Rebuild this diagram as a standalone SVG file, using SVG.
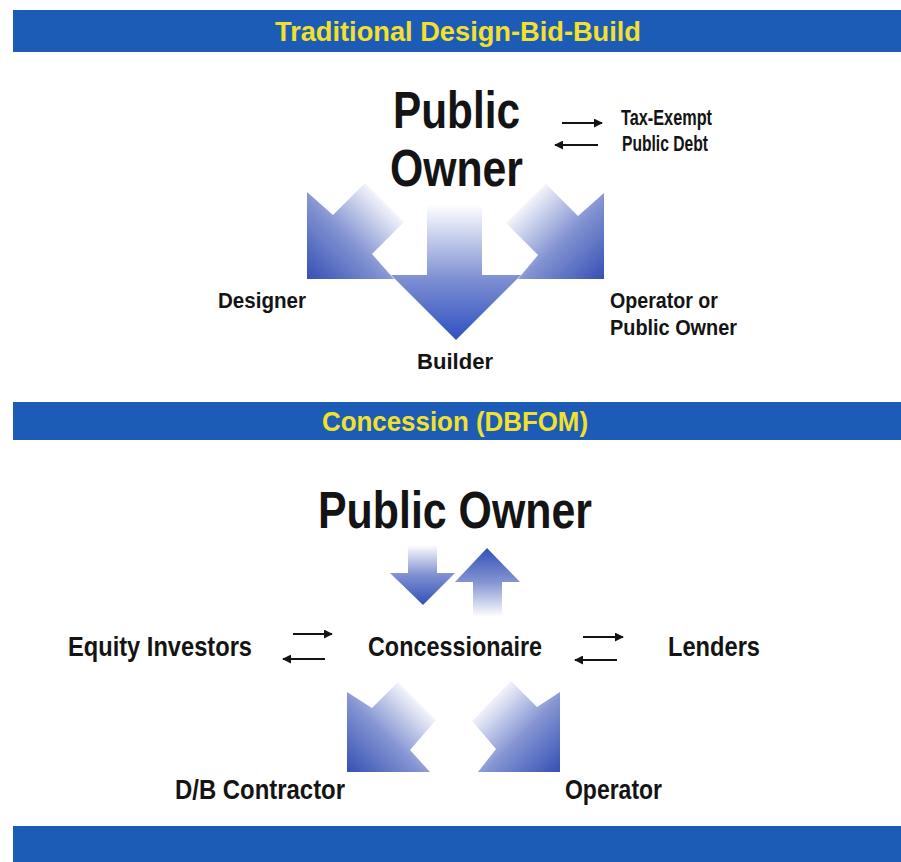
<svg xmlns="http://www.w3.org/2000/svg" width="901" height="862" viewBox="0 0 901 862">
<defs>
<style>
.t{font-family:'Liberation Sans Narrow','Liberation Sans',Arial,sans-serif;font-weight:bold;fill:#141414}
.bar{fill:#1d5cb6}
.bt{font-family:'Liberation Sans Narrow','Liberation Sans',Arial,sans-serif;font-weight:bold;fill:#f2e12c;font-size:28px}
.ln{stroke:#141414;stroke-width:2;fill:none}
</style>
<marker id="ah" viewBox="0 0 10 10" refX="9" refY="5" markerWidth="4.5" markerHeight="4.5" orient="auto" markerUnits="strokeWidth">
<path d="M0,0 L10,5 L0,10 Z" fill="#141414"/>
</marker>
<linearGradient id="gTL" gradientUnits="userSpaceOnUse" x1="307" y1="279" x2="388" y2="198">
<stop offset="0" stop-color="#3550b4"/><stop offset="0.5" stop-color="#8494d2"/><stop offset="1" stop-color="#ffffff"/>
</linearGradient>
<linearGradient id="gTR" gradientUnits="userSpaceOnUse" x1="604" y1="279" x2="523" y2="198">
<stop offset="0" stop-color="#3550b4"/><stop offset="0.5" stop-color="#8494d2"/><stop offset="1" stop-color="#ffffff"/>
</linearGradient>
<linearGradient id="gTC" gradientUnits="userSpaceOnUse" x1="0" y1="340" x2="0" y2="205">
<stop offset="0" stop-color="#2f50c0"/><stop offset="0.45" stop-color="#7d8fd2"/><stop offset="1" stop-color="#ffffff"/>
</linearGradient>
<linearGradient id="gD" gradientUnits="userSpaceOnUse" x1="0" y1="605" x2="0" y2="545">
<stop offset="0" stop-color="#3350b8"/><stop offset="0.5" stop-color="#7f90d0"/><stop offset="1" stop-color="#ffffff"/>
</linearGradient>
<linearGradient id="gU" gradientUnits="userSpaceOnUse" x1="0" y1="548" x2="0" y2="617">
<stop offset="0" stop-color="#3350b8"/><stop offset="0.5" stop-color="#8595d2"/><stop offset="1" stop-color="#ffffff"/>
</linearGradient>
<linearGradient id="gBL" gradientUnits="userSpaceOnUse" x1="347" y1="772" x2="421" y2="698">
<stop offset="0" stop-color="#3550b4"/><stop offset="0.5" stop-color="#8494d2"/><stop offset="1" stop-color="#ffffff"/>
</linearGradient>
<linearGradient id="gBR" gradientUnits="userSpaceOnUse" x1="560" y1="772" x2="486" y2="698">
<stop offset="0" stop-color="#3550b4"/><stop offset="0.5" stop-color="#8494d2"/><stop offset="1" stop-color="#ffffff"/>
</linearGradient>
</defs>
<rect width="901" height="862" fill="#ffffff"/>

<g id="bar-traditional">
<rect class="bar" x="13" y="10" width="888" height="42"/>
<text class="bt" x="458" y="41" text-anchor="middle" textLength="366" lengthAdjust="spacingAndGlyphs">Traditional Design-Bid-Build</text>
</g>
<g id="bar-concession">
<rect class="bar" x="13" y="402" width="888" height="38"/>
<text class="bt" x="455" y="431" text-anchor="middle" textLength="266" lengthAdjust="spacingAndGlyphs">Concession (DBFOM)</text>
</g>
<g id="bar-bottom">
<rect class="bar" x="13" y="826" width="888" height="36"/>
</g>

<g id="connectors">
<g id="top-arrows">
<polygon fill="url(#gTL)" points="307,192 333,215 365,183 404,222 372,254 394,279 307,279"/>
<polygon fill="url(#gTR)" points="604,193 578,216 546,184 506,223 538,255 518,279 604,279"/>
<polygon fill="url(#gTC)" points="427,195 482,195 482,275 521,275 456,340 391,275 427,275"/>
</g>
<g id="mid-arrows">
<polygon fill="url(#gD)" points="408,540 437,540 437,573 455,573 423,605 390,573 408,573"/>
<polygon fill="url(#gU)" points="487,548 520,582 502,582 502,620 473,620 473,582 455,582"/>
</g>
<g id="bottom-arrows">
<polygon fill="url(#gBL)" points="347,692 372,708 398,682 436,720 410,750 430,772 347,772"/>
<polygon fill="url(#gBR)" points="560,692 537,707 511,681 472,721 496,749 478,772 560,772"/>
</g>
<g id="exchange-arrows">
<line class="ln" x1="562" y1="123" x2="602" y2="123" marker-end="url(#ah)"/>
<line class="ln" x1="598" y1="145" x2="555" y2="145" marker-end="url(#ah)"/>
<line class="ln" x1="293" y1="634" x2="332" y2="634" marker-end="url(#ah)"/>
<line class="ln" x1="325" y1="659" x2="283" y2="659" marker-end="url(#ah)"/>
<line class="ln" x1="583" y1="637" x2="623" y2="637" marker-end="url(#ah)"/>
<line class="ln" x1="617" y1="660" x2="575" y2="660" marker-end="url(#ah)"/>
</g>
</g>

<g id="public-owner-top">
<text class="t" x="393" y="128" font-size="52" textLength="127" lengthAdjust="spacingAndGlyphs">Public</text>
<text class="t" x="390" y="186" font-size="52" textLength="133" lengthAdjust="spacingAndGlyphs">Owner</text>
</g>
<g id="tax-exempt-debt">
<text class="t" x="621" y="125" font-size="22" textLength="91" lengthAdjust="spacingAndGlyphs">Tax-Exempt</text>
<text class="t" x="622" y="151" font-size="22" textLength="86" lengthAdjust="spacingAndGlyphs">Public Debt</text>
</g>
<g id="designer">
<text class="t" x="218" y="308" font-size="22" textLength="88" lengthAdjust="spacingAndGlyphs">Designer</text>
</g>
<g id="operator-public-owner">
<text class="t" x="610" y="308" font-size="22" textLength="108" lengthAdjust="spacingAndGlyphs">Operator or</text>
<text class="t" x="610" y="335" font-size="22" textLength="127" lengthAdjust="spacingAndGlyphs">Public Owner</text>
</g>
<g id="builder">
<text class="t" x="417" y="369" font-size="22" textLength="76" lengthAdjust="spacingAndGlyphs">Builder</text>
</g>

<g id="public-owner-concession">
<text class="t" x="318" y="528" font-size="52" textLength="274" lengthAdjust="spacingAndGlyphs">Public Owner</text>
</g>
<g id="equity-investors">
<text class="t" x="68" y="656" font-size="27" textLength="184" lengthAdjust="spacingAndGlyphs">Equity Investors</text>
</g>
<g id="concessionaire">
<text class="t" x="368" y="656" font-size="27" textLength="174" lengthAdjust="spacingAndGlyphs">Concessionaire</text>
</g>
<g id="lenders">
<text class="t" x="668" y="656" font-size="27" textLength="92" lengthAdjust="spacingAndGlyphs">Lenders</text>
</g>
<g id="db-contractor">
<text class="t" x="175" y="799" font-size="27" textLength="170" lengthAdjust="spacingAndGlyphs">D/B Contractor</text>
</g>
<g id="operator">
<text class="t" x="565" y="799" font-size="27" textLength="97" lengthAdjust="spacingAndGlyphs">Operator</text>
</g>
</svg>
